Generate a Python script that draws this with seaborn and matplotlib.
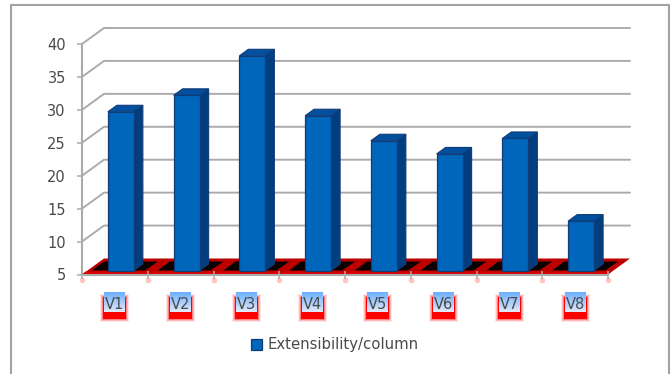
import matplotlib
matplotlib.use("Agg")
import matplotlib.pyplot as plt
import seaborn as sns
from matplotlib.lines import Line2D
from matplotlib.patches import Patch, Polygon, Rectangle
from matplotlib.transforms import Affine2D

categories = ["V1", "V2", "V3", "V4", "V5", "V6", "V7", "V8"]
values = [29.1, 31.6, 37.6, 28.5, 24.7, 22.7, 25.05, 12.5]
y_ticks = [5, 10, 15, 20, 25, 30, 35, 40]
series_name = "Extensibility/column"

W, H = 671, 374
LEFT, RIGHT, BOTTOM, TOP = 82, 608, 274.5, 44
GREY = "#ABABAB"
TEXT = "#4A4A4A"

sns.set_theme(style="white")
plt.rcParams["font.family"] = ["DejaVu Sans"]

fig = plt.figure(figsize=(W / 100, H / 100), dpi=100, facecolor="white")
ax = fig.add_axes([LEFT / W, 1 - BOTTOM / H, (RIGHT - LEFT) / W, (BOTTOM - TOP) / H])

sns.barplot(x=categories, y=values, ax=ax, width=0.395, color="#0066BC",
            saturation=1, edgecolor="#123C78", linewidth=0.9, zorder=5)
ax.set_xlim(-0.5, len(categories) - 0.5)
ax.set_ylim(5, 40)
ax.set_facecolor("none")
ax.set_axisbelow(False)


def pixel_shift(dx, dy):
    """Transform that moves data coordinates by a screen offset, for the oblique view."""
    return ax.transData + Affine2D().translate(dx, dy)


# Data units per pixel, used to build the oblique faces from the bar values.
ux = len(categories) / (RIGHT - LEFT)
uy = (y_ticks[-1] - y_ticks[0]) / (BOTTOM - TOP)
xmin, xmax = ax.get_xlim()
DEPTH_X, DEPTH_Y = 22, 16

# Back wall gridlines and the oblique connectors running to the value axis.
for tick in y_ticks[1:]:
    ax.plot([xmin, xmin + DEPTH_X * ux, xmax + DEPTH_X * ux],
            [tick, tick + DEPTH_Y * uy, tick + DEPTH_Y * uy],
            color=GREY, lw=1.4, clip_on=False, zorder=0.5)

# Red floor with a brighter front lip.
y0 = y_ticks[0]
ax.add_patch(Polygon([(xmin, y0), (xmax, y0),
                      (xmax + DEPTH_X * ux, y0 + DEPTH_Y * uy),
                      (xmin + DEPTH_X * ux, y0 + DEPTH_Y * uy)],
                     closed=True, fc="#BC0000", ec="none", clip_on=False, zorder=0.7))
ax.add_patch(Polygon([(xmin, y0), (xmax, y0),
                      (xmax + 3.5 * ux, y0 + 3 * uy), (xmin + 3.5 * ux, y0 + 3 * uy)],
                     closed=True, fc="#D80000", ec="none", clip_on=False, zorder=0.8))

half = 0.395 / 2
BAR_DX, BAR_DY = 6, 4
SIDE_X, SIDE_Y = 9, 6.5
for i, (bar, v) in enumerate(zip(ax.patches[:len(values)], values)):
    bar.set_y(y0)
    bar.set_height(v - y0)
    bar.set_transform(pixel_shift(BAR_DX, BAR_DY))
    bar.set_clip_on(False)
    x1, x2 = i - half, i + half
    # Black shadow around the foot of the bar.
    ax.add_patch(Polygon([(x1 - 10 * ux, y0 + 4 * uy), (x2 + 17 * ux, y0 + 4 * uy),
                          (x2 + 30 * ux, y0 + 13 * uy), (x1 + 2 * ux, y0 + 13 * uy)],
                         closed=True, fc="#0A0000", ec="none", clip_on=False, zorder=0.9))
    # Right side face.
    ax.add_patch(Polygon([(x2, y0), (x2 + SIDE_X * ux, y0 + SIDE_Y * uy),
                          (x2 + SIDE_X * ux, v + SIDE_Y * uy), (x2, v)],
                         closed=True, fc="#013E7F", ec="#123C78", lw=0.8, clip_on=False,
                         zorder=4, transform=pixel_shift(BAR_DX, BAR_DY)))
    # Top face.
    ax.add_patch(Polygon([(x1, v), (x2, v), (x2 + SIDE_X * ux, v + SIDE_Y * uy),
                          (x1 + SIDE_X * ux, v + SIDE_Y * uy)],
                         closed=True, fc="#00509F", ec="#123C78", lw=0.8, clip_on=False,
                         zorder=4, transform=pixel_shift(BAR_DX, BAR_DY)))

# Axis lines and ticks; category labels sit between the boundary ticks.
sns.despine(ax=ax, top=True, right=True)
for side in ("left", "bottom"):
    ax.spines[side].set_color(GREY)
    ax.spines[side].set_linewidth(1.5)
ax.set_yticks(y_ticks)
ax.set_xticks(range(len(categories)))
ax.set_xticklabels(categories)
ax.set_xticks([i - 0.5 for i in range(len(categories) + 1)], minor=True)
ax.tick_params(axis="y", left=True, length=3.6, width=1.1, color=GREY,
               labelcolor=TEXT, labelsize=10.5, pad=8)
ax.tick_params(axis="x", which="major", bottom=False, labelcolor=TEXT,
               labelsize=10.5, pad=10.5)
ax.tick_params(axis="x", which="minor", bottom=True, direction="inout", length=6,
               width=1.1, color=GREY)
ax.set_xlabel("")
ax.set_ylabel("")

# Pale pink marks under each boundary tick.
ax.scatter([i - 0.5 for i in range(len(categories) + 1)], [y0] * (len(categories) + 1),
           s=16, color="#FFC4C4", linewidths=0, clip_on=False, zorder=1.5,
           transform=pixel_shift(0, -5))

# Highlighted category labels: soft red glow beneath a blue-to-pale gradient.
for i in range(len(categories)):
    cx = i
    for grow, alpha in ((3, 0.10), (2, 0.18), (1, 0.30)):
        ax.add_patch(Rectangle((cx - (11.5 + grow) * ux, y0 - (44 + grow) * uy),
                               (23 + 2 * grow) * ux, (22 + 2 * grow) * uy,
                               fc="#FF0000", ec="none", alpha=alpha, clip_on=False, zorder=1))
    ax.add_patch(Rectangle((cx - 11.5 * ux, y0 - 44 * uy), 23 * ux, 22 * uy,
                           fc="#FF0000", ec="none", clip_on=False, zorder=1.05))
    steps = 20
    top_rgb = (0.42, 0.69, 1.0)
    low_rgb = (0.88, 0.91, 0.97)
    for s in range(steps):
        t = s / (steps - 1)
        rgb = tuple(a + (b - a) * t for a, b in zip(top_rgb, low_rgb))
        ax.add_patch(Rectangle((cx - 10.5 * ux, y0 - (17.5 + (s + 1)) * uy),
                               21 * ux, 1.05 * uy, fc=rgb, ec="none",
                               clip_on=False, zorder=1.1))

# Legend below the plot.
handle = Patch(facecolor="#0066BC", edgecolor="#123C78", linewidth=0.9, label=series_name)
fig.legend(handles=[handle], loc="center", bbox_to_anchor=(335 / W, 1 - 345 / H),
           frameon=False, fontsize=10.7, labelcolor=TEXT, handlelength=0.75,
           handleheight=0.75, handletextpad=0.4, borderpad=0)

# Chart area border, open at the bottom.
fig.add_artist(Line2D([11 / W, 11 / W, 669 / W, 669 / W],
                      [0, 1 - 4.5 / H, 1 - 4.5 / H, 0],
                      color="#A2A2A2", lw=1.5, transform=fig.transFigure))

fig.savefig("out.png", dpi=100, facecolor="white")
